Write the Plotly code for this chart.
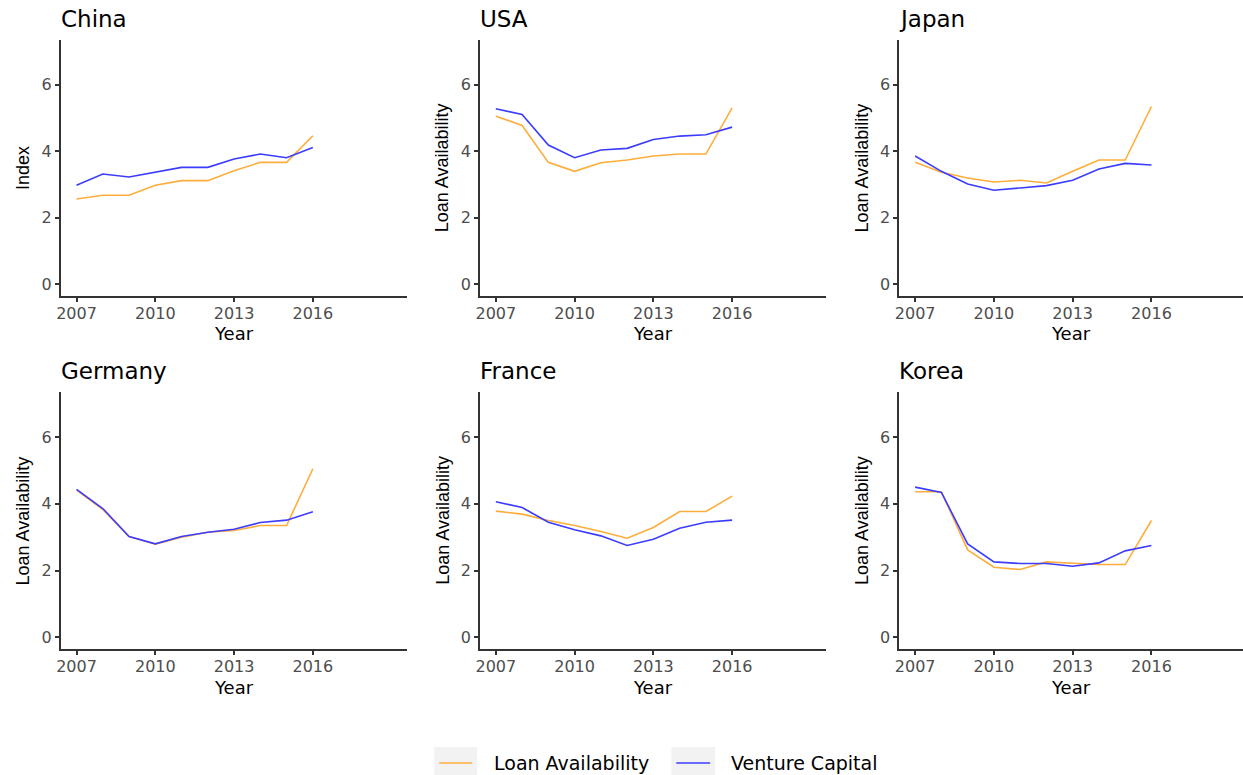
import plotly.graph_objects as go

# Survey years and per-country index values
years = list(range(2007, 2017))
countries = ["China", "USA", "Japan", "Germany", "France", "Korea"]
y_titles = ["Index", "Loan Availability", "Loan Availability",
            "Loan Availability", "Loan Availability", "Loan Availability"]
series_names = ["Loan Availability", "Venture Capital"]
x_tick_vals = [2007, 2010, 2013, 2016]
y_tick_vals = [0, 2, 4, 6]

loan_china = [2.57, 2.68, 2.68, 2.98, 3.12, 3.12, 3.42, 3.67, 3.67, 4.47]
vc_china = [2.98, 3.32, 3.23, 3.37, 3.52, 3.52, 3.77, 3.92, 3.81, 4.12]

loan_usa = [5.06, 4.78, 3.67, 3.40, 3.66, 3.74, 3.86, 3.92, 3.92, 5.31]
vc_usa = [5.28, 5.11, 4.19, 3.81, 4.04, 4.09, 4.36, 4.46, 4.50, 4.73]

loan_japan = [3.67, 3.37, 3.20, 3.08, 3.13, 3.05, 3.40, 3.74, 3.74, 5.35]
vc_japan = [3.86, 3.40, 3.02, 2.83, 2.90, 2.97, 3.13, 3.47, 3.64, 3.59]

loan_germany = [4.41, 3.83, 3.02, 2.79, 3.00, 3.15, 3.20, 3.35, 3.35, 5.05]
vc_germany = [4.43, 3.86, 3.02, 2.80, 3.02, 3.15, 3.24, 3.44, 3.51, 3.76]

loan_france = [3.78, 3.69, 3.50, 3.35, 3.17, 2.97, 3.29, 3.77, 3.77, 4.23]
vc_france = [4.06, 3.89, 3.45, 3.22, 3.04, 2.75, 2.94, 3.27, 3.45, 3.51]

loan_korea = [4.36, 4.36, 2.62, 2.10, 2.03, 2.26, 2.22, 2.18, 2.18, 3.50]
vc_korea = [4.50, 4.34, 2.80, 2.26, 2.21, 2.21, 2.13, 2.23, 2.59, 2.75]

loan_series = [loan_china, loan_usa, loan_japan, loan_germany, loan_france, loan_korea]
vc_series = [vc_china, vc_usa, vc_japan, vc_germany, vc_france, vc_korea]

LOAN_COLOR = "#FFAD3A"
VC_COLOR = "#3C3CFF"
AXIS_COLOR = "#333333"
TICK_FONT_COLOR = "#4D4D4D"
KEY_BG = "#F2F2F2"
FONT = "DejaVu Sans, sans-serif"
NARROW_FONT = "Liberation Sans, Arial, sans-serif"

W, H = 1243, 775
col_px = [(56, 404), (477, 824), (898, 1243)]
row_px = [(40, 296), (392, 649)]
PX_PER_YEAR = 348 / 13.2
X0 = 2006.4

fig = go.Figure()
layout_axes = {}
annotations = []
shapes = []

for i, name in enumerate(countries):
    r, c = divmod(i, 3)
    idx = i + 1
    xa = "x" if idx == 1 else f"x{idx}"
    ya = "y" if idx == 1 else f"y{idx}"
    xl, xr = col_px[c]
    yt, yb = row_px[r]

    fig.add_trace(go.Scatter(
        x=years, y=loan_series[i], mode="lines", name=series_names[0],
        line=dict(color=LOAN_COLOR, width=1.6), legendgroup="loan",
        showlegend=False, xaxis=xa, yaxis=ya))
    fig.add_trace(go.Scatter(
        x=years, y=vc_series[i], mode="lines", name=series_names[1],
        line=dict(color=VC_COLOR, width=1.6), legendgroup="vc",
        showlegend=False, xaxis=xa, yaxis=ya))

    x_end = X0 + (xr - xl) / PX_PER_YEAR
    common = dict(
        showgrid=False, zeroline=False,
        showline=True, linecolor=AXIS_COLOR, linewidth=2,
        ticks="outside", ticklen=4, tickwidth=1.5, tickcolor=AXIS_COLOR,
        tickfont=dict(size=16, color=TICK_FONT_COLOR, family=FONT),
    )
    layout_axes[f"xaxis{'' if idx == 1 else idx}"] = dict(
        domain=[xl / W, xr / W], anchor=ya, range=[X0, x_end],
        tickvals=x_tick_vals, ticklabelstandoff=-2, **common)
    layout_axes[f"yaxis{'' if idx == 1 else idx}"] = dict(
        domain=[1 - yb / H, 1 - yt / H], anchor=xa, range=[-0.35, 7.35],
        tickvals=y_tick_vals, **common)

    # panel title
    annotations.append(dict(
        text=name, xref="paper", yref="paper", x=(xl - 2) / W, y=1 - (yt - 21) / H,
        xanchor="left", yanchor="middle", showarrow=False,
        font=dict(size=23, color="black", family=FONT)))
    # x-axis title
    annotations.append(dict(
        text="Year", xref="paper", yref="paper", x=(xl + xr) / 2 / W,
        y=1 - (yb + 38) / H, xanchor="center", yanchor="middle", showarrow=False,
        font=dict(size=18, color="black", family=FONT)))
    # y-axis title
    annotations.append(dict(
        text=y_titles[i], xref="paper", yref="paper", x=(xl - 38) / W,
        y=1 - (yt + yb) / 2 / H, xanchor="center", yanchor="middle",
        textangle=-90, showarrow=False,
        font=dict(size=18, color="black", family=NARROW_FONT)))

# Legend drawn below the panels: grey key boxes with a line sample and a label
legend_items = [
    (series_names[0], LOAN_COLOR, 431, 474, 489),
    (series_names[1], VC_COLOR, 669, 713, 727),
]
key_top, key_bottom, key_mid = 747, 780, 763
for label, color, bx0, bx1, tx in legend_items:
    shapes.append(dict(type="rect", xref="paper", yref="paper",
                       x0=bx0 / W, x1=bx1 / W, y0=1 - key_bottom / H, y1=1 - key_top / H,
                       fillcolor=KEY_BG, line=dict(width=0), layer="above"))
    shapes.append(dict(type="line", xref="paper", yref="paper",
                       x0=(bx0 + 5) / W, x1=(bx1 - 5) / W,
                       y0=1 - key_mid / H, y1=1 - key_mid / H,
                       line=dict(color=color, width=1.6), layer="above"))
    annotations.append(dict(
        text=label, xref="paper", yref="paper", x=tx / W, y=1 - key_mid / H,
        xanchor="left", yanchor="middle", showarrow=False,
        font=dict(size=19, color="black", family=FONT)))

fig.update_layout(
    width=W, height=H,
    margin=dict(l=0, r=0, t=0, b=0),
    paper_bgcolor="white", plot_bgcolor="white",
    font=dict(family=FONT),
    annotations=annotations,
    shapes=shapes,
    showlegend=False,
    **layout_axes,
)

fig.write_html("out.html")
